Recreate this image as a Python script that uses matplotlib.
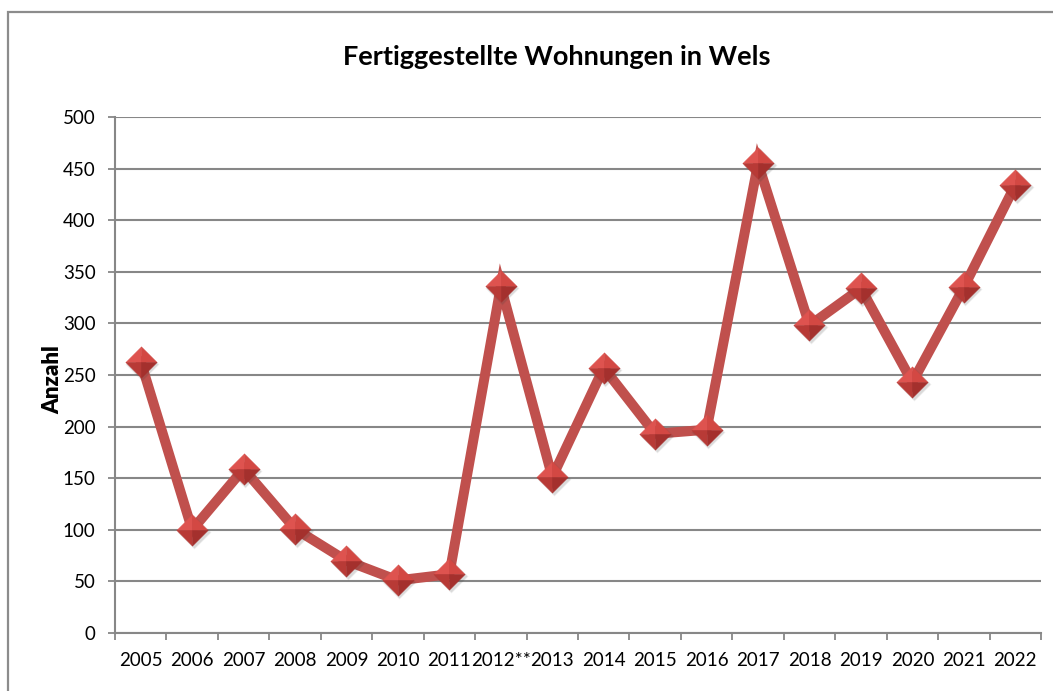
import matplotlib
matplotlib.use("Agg")
from matplotlib import pyplot as plt
from matplotlib.path import Path
from matplotlib.patches import Rectangle
import matplotlib.transforms as mtransforms
import numpy as np

plt.rcParams["font.family"] = ["Lato", "DejaVu Sans"]

# Fertiggestellte Wohnungen pro Jahr
years = ["2005", "2006", "2007", "2008", "2009", "2010", "2011", "2012**", "2013",
         "2014", "2015", "2016", "2017", "2018", "2019", "2020", "2021", "2022"]
counts = [263, 100, 159, 101, 70, 51, 57, 336, 151,
          257, 193, 197, 455, 298, 334, 243, 335, 434]

line_color = "#C0504D"
grid_color = "#878787"

fig = plt.figure(figsize=(10.53, 6.91), dpi=100)
ax = fig.add_axes([0.1092, 0.0839, 0.8794, 0.7468])

# outer chart frame
fig.patches.append(Rectangle((0.0076, -0.1), 1.2, 0.9826 + 0.1, transform=fig.transFigure,
                             fill=False, edgecolor="#8C8C8C", linewidth=1.6))

x = np.arange(len(years))
ax.plot(x, counts, color=line_color, linewidth=7.2, solid_joinstyle="miter", zorder=3)

# soft shadow under the markers
shadow = mtransforms.offset_copy(ax.transData, fig=fig, x=1.5, y=-2.0, units="dots")
for ms, a in [(24.5, 0.08), (23.0, 0.12)]:
    ax.plot(x, counts, linestyle="none", marker="D", markersize=ms / 1.414,
            markerfacecolor="#404040", markeredgecolor="none", alpha=a,
            transform=shadow, zorder=3.5)

# diamond markers built from four shaded facets
facets = [
    ([(-1, 0), (0, 1), (0, 0), (-1, 0)], "#DE534F"),
    ([(0, 1), (1, 0), (0, 0), (0, 1)], "#D34843"),
    ([(-1, 0), (0, -1), (0, 0), (-1, 0)], "#B83A36"),
    ([(1, 0), (0, -1), (0, 0), (1, 0)], "#A4302D"),
]
for verts, col in facets:
    ax.plot(x, counts, linestyle="none", marker=Path(verts), markersize=22.5,
            markerfacecolor=col, markeredgecolor=col, markeredgewidth=0.3, zorder=4)

ax.set_xlim(-0.5, len(years) - 0.5)
ax.set_ylim(0, 500)
ax.set_yticks(np.arange(0, 501, 50))
ax.grid(axis="y", color=grid_color, linewidth=1.5)
ax.set_axisbelow(True)

ax.set_xticks(np.arange(-0.5, len(years)), labels=[])
ax.set_xticks(x, labels=years, minor=True)
ax.tick_params(axis="x", which="major", length=5, width=1.3, color=grid_color, direction="out")
ax.tick_params(axis="x", which="minor", length=0, pad=14, labelsize=13.5)
ax.tick_params(axis="y", length=5, width=1.3, color=grid_color, pad=9, labelsize=13.5)

for side in ["top", "right"]:
    ax.spines[side].set_visible(False)
for side in ["left", "bottom"]:
    ax.spines[side].set_color(grid_color)
    ax.spines[side].set_linewidth(1.5)

ax.set_ylabel("Anzahl", fontsize=16, fontweight="heavy")
ax.yaxis.set_label_coords(-0.056, 0.492)

fig.text(0.529, 0.9175, "Fertiggestellte Wohnungen in Wels", ha="center", va="center",
         fontsize=19.5, fontweight="bold")

fig.savefig("out.png", dpi=100)
